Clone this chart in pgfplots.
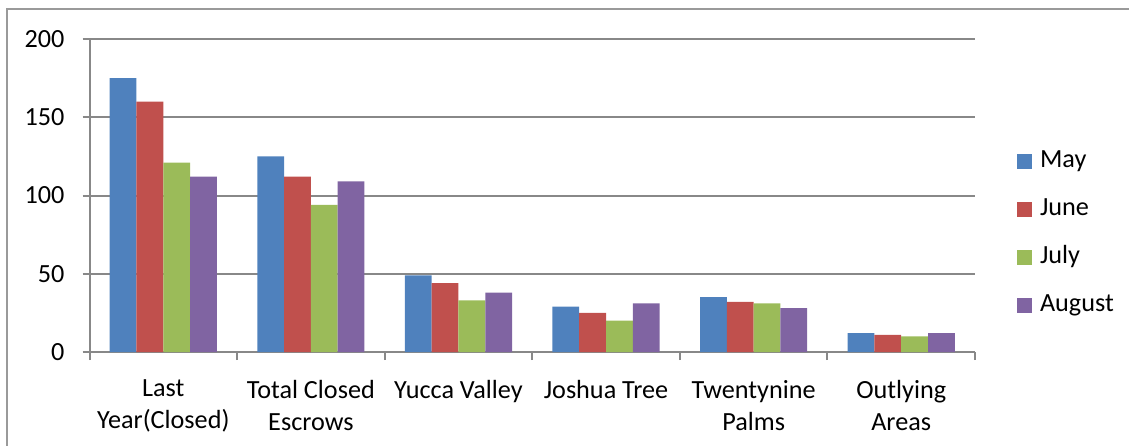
\documentclass[border=0pt]{standalone}
\usepackage{pgfplots}
\pgfplotsset{compat=1.18}
\usepackage{fontspec}
\setmainfont{Carlito}
\definecolor{cMay}{HTML}{4F81BD}
\definecolor{cJune}{HTML}{C0504D}
\definecolor{cJuly}{HTML}{9BBB59}
\definecolor{cAug}{HTML}{8064A2}
\definecolor{gridc}{HTML}{888888}
\begin{document}
\begin{tikzpicture}
\useasboundingbox (0pt,0pt) rectangle (564.5pt,-222.5pt);
\draw[color=gridc!85, line width=0.9pt] (3.6pt,-300pt) -- (3.6pt,-4.6pt) -- (700pt,-4.6pt);
\begin{axis}[
  at={(44.75pt,-176pt)}, anchor=south west,
  scale only axis,
  width=442.75pt, height=156.5pt,
  ybar=0pt, bar width=13.4pt,
  xmin=-0.5, xmax=5.5,
  ymin=0, ymax=200,
  ytick={0,50,100,150,200},
  xtick={0,1,2,3,4,5},
  xticklabels={{Last\\Year(Closed)},{Total Closed\\Escrows},{Yucca Valley},{Joshua Tree},{Twentynine\\Palms},{Outlying\\Areas}},
  minor xtick={-0.5,0.5,1.5,2.5,3.5,4.5,5.5},
  major x tick style={draw=none},
  minor x tick style={draw=gridc, line width=1pt},
  y tick style={draw=gridc, line width=1pt},
  tick align=outside,
  major tick length=3.5pt, minor tick length=4pt,
  axis x line*=bottom, axis y line*=left,
  axis line style={draw=gridc, line width=1pt, -},
  ymajorgrids, grid style={draw=gridc, line width=1pt},
  /pgf/number format/assume math mode=true,
  tick label style={font=\fontsize{13.1}{16}\selectfont, text=black},
  xticklabel style={align=center, anchor=north, yshift=-7pt, text depth=0pt},
  yticklabel style={anchor=east, xshift=-5.5pt},
  legend style={draw=none, fill=none, inner sep=0pt,
    at={(axis description cs:1.047,0.38)}, anchor=west,
    font=\fontsize{13.1}{16}\selectfont,
    row sep=12pt,
    nodes={inner sep=0pt, text height=9pt, text depth=3pt},
    /tikz/every odd column/.style={column sep=4pt}},
  legend cell align=left,
  legend image code/.code={\fill[#1] (0pt,-3.75pt) rectangle (7.5pt,3.75pt);},
  clip=false,
]
\addplot[fill=cMay, draw=none] coordinates {(0,175) (1,125) (2,49) (3,29) (4,35) (5,12)};
\addplot[fill=cJune, draw=none] coordinates {(0,160) (1,112) (2,44) (3,25) (4,32) (5,11)};
\addplot[fill=cJuly, draw=none] coordinates {(0,121) (1,94) (2,33) (3,20) (4,31) (5,10)};
\addplot[fill=cAug, draw=none] coordinates {(0,112) (1,109) (2,38) (3,31) (4,28) (5,12)};
\legend{May,June,July,August}
\end{axis}
\end{tikzpicture}
\end{document}
